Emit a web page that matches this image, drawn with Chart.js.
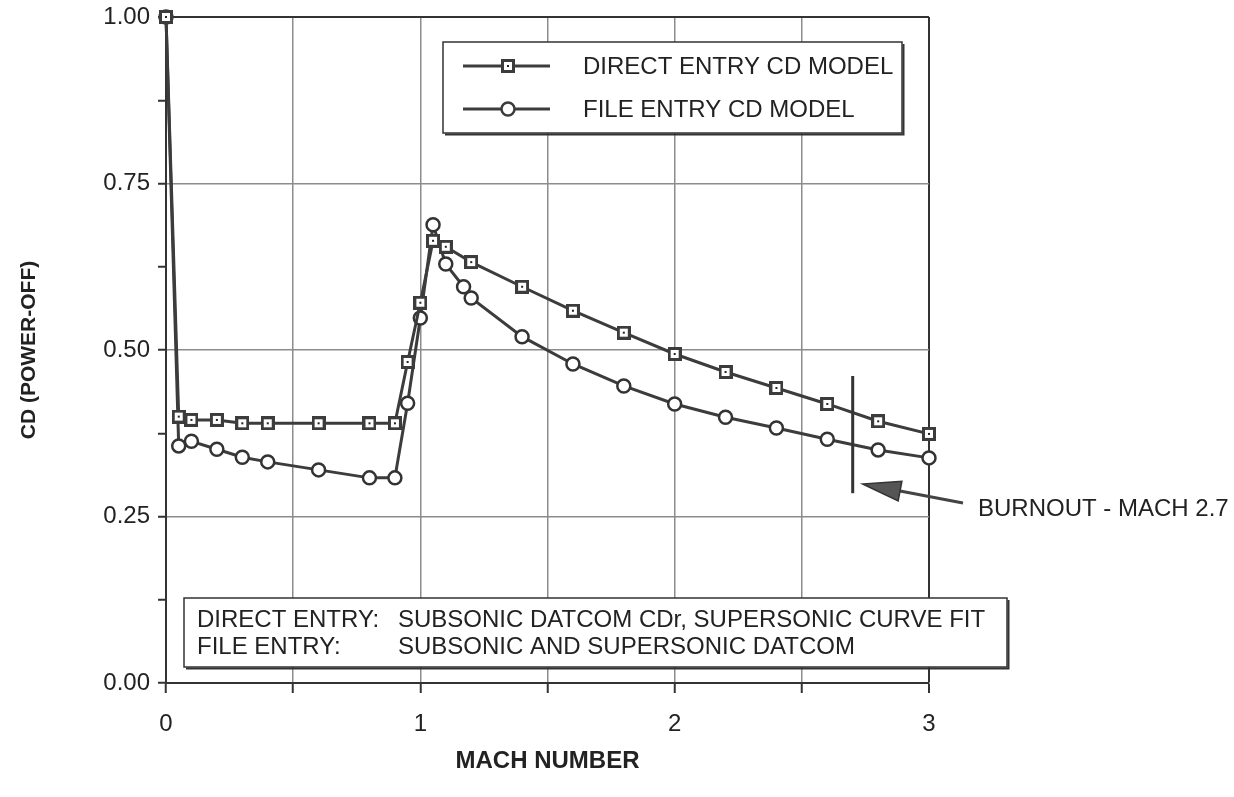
<!DOCTYPE html>
<html>
<head>
<meta charset="utf-8">
<script src="https://cdn.jsdelivr.net/npm/chart.js@4.4.1/dist/chart.umd.min.js"></script>
<style>
  html, body { margin: 0; padding: 0; background: #fff; }
  #cdChart { display: block; }
</style>
</head>
<body>
<canvas id="cdChart" width="1234" height="797"></canvas>
<script>
// Mach number / CD values
const machDirect = [0, 0.05, 0.1, 0.2, 0.3, 0.4, 0.6, 0.8, 0.9, 0.95, 1.0, 1.05, 1.1, 1.2, 1.4, 1.6, 1.8, 2.0, 2.2, 2.4, 2.6, 2.8, 3.0];
const cdDirect = [1.0, 0.40, 0.395, 0.395, 0.39, 0.39, 0.39, 0.39, 0.39, 0.482, 0.571, 0.664, 0.655, 0.632, 0.595, 0.559, 0.526, 0.494, 0.467, 0.443, 0.419, 0.393, 0.374];

const machFile = [0, 0.05, 0.1, 0.2, 0.3, 0.4, 0.6, 0.8, 0.9, 0.95, 1.0, 1.05, 1.1, 1.17, 1.2, 1.4, 1.6, 1.8, 2.0, 2.2, 2.4, 2.6, 2.8, 3.0];
const cdFile = [1.0, 0.356, 0.363, 0.351, 0.339, 0.332, 0.320, 0.308, 0.308, 0.42, 0.548, 0.688, 0.629, 0.595, 0.578, 0.52, 0.479, 0.446, 0.419, 0.399, 0.383, 0.366, 0.350, 0.338];

const seriesLabels = ['DIRECT ENTRY CD MODEL', 'FILE ENTRY CD MODEL'];
const noteLines = [
    ['DIRECT ENTRY:', 'SUBSONIC DATCOM CDr, SUPERSONIC CURVE FIT'],
    ['FILE ENTRY:', 'SUBSONIC AND SUPERSONIC DATCOM']
];
const burnoutMach = 2.7;
const burnoutRange = [0.285, 0.461];
const burnoutText = 'BURNOUT - MACH 2.7';

const INK = '#333';
const LINE = '#3c3c3c';
const GRID = '#8c8c8c';
const FONT = "'Liberation Sans', Arial, sans-serif";

Chart.defaults.font.family = FONT;
Chart.defaults.color = '#222';

function squareMarker() {
    const c = document.createElement('canvas');
    c.width = 14; c.height = 14;
    const g = c.getContext('2d');
    g.fillStyle = LINE; g.fillRect(0, 0, 14, 14);
    g.fillStyle = '#fff'; g.fillRect(3, 3, 8, 8);
    g.fillStyle = '#222'; g.fillRect(6, 6, 2, 2);
    return c;
}
const sq = squareMarker();

function onStep(v, step) {
    return Math.abs(v / step - Math.round(v / step)) < 1e-6;
}

function box(ctx, x, y, w, h) {
    ctx.fillStyle = '#fff';
    ctx.fillRect(x, y, w, h);
    ctx.strokeStyle = INK;
    ctx.lineWidth = 1.5;
    ctx.strokeRect(x, y, w, h);
    // little shadow on bottom/right edge
    ctx.lineWidth = 2;
    ctx.beginPath();
    ctx.moveTo(x + 2, y + h + 1.5);
    ctx.lineTo(x + w + 1.5, y + h + 1.5);
    ctx.lineTo(x + w + 1.5, y + 2);
    ctx.stroke();
}

const extras = {
    id: 'extras',
    afterDraw(chart) {
        const ctx = chart.ctx;
        const xs = chart.scales.x, ys = chart.scales.y;
        ctx.save();

        // legend
        box(ctx, 443, 42, 459, 91);
        ctx.font = '24px ' + FONT;
        ctx.textBaseline = 'middle';
        ctx.textAlign = 'left';
        seriesLabels.forEach((lab, i) => {
            const ly = 66 + i * 43;
            ctx.strokeStyle = LINE;
            ctx.lineWidth = 3;
            ctx.beginPath();
            ctx.moveTo(463, ly);
            ctx.lineTo(550, ly);
            ctx.stroke();
            if (i === 0) {
                ctx.drawImage(sq, 508 - 7, ly - 7);
            } else {
                ctx.beginPath();
                ctx.arc(508, ly, 6.5, 0, Math.PI * 2);
                ctx.fillStyle = '#fff';
                ctx.fill();
                ctx.lineWidth = 2.5;
                ctx.stroke();
            }
            ctx.fillStyle = '#222';
            ctx.fillText(lab, 583, ly + 1);
        });

        // note box
        box(ctx, 184, 598, 823, 69);
        ctx.fillStyle = '#222';
        noteLines.forEach((row, i) => {
            const ty = 620 + i * 27;
            ctx.fillText(row[0], 197, ty);
            ctx.fillText(row[1], 398, ty);
        });

        // burnout marker
        const bx = xs.getPixelForValue(burnoutMach);
        ctx.strokeStyle = INK;
        ctx.lineWidth = 3;
        ctx.beginPath();
        ctx.moveTo(bx, ys.getPixelForValue(burnoutRange[1]));
        ctx.lineTo(bx, ys.getPixelForValue(burnoutRange[0]));
        ctx.stroke();

        // arrow pointing at it
        const tipX = bx + 10, tipY = 484;
        const tailX = 963, tailY = 503;
        const ang = Math.atan2(tailY - tipY, tailX - tipX);
        const hl = 38, hw = 10;
        const baseX = tipX + Math.cos(ang) * hl, baseY = tipY + Math.sin(ang) * hl;
        ctx.strokeStyle = '#444';
        ctx.lineWidth = 3;
        ctx.beginPath();
        ctx.moveTo(baseX, baseY);
        ctx.lineTo(tailX, tailY);
        ctx.stroke();
        ctx.fillStyle = '#555';
        ctx.strokeStyle = '#333';
        ctx.lineWidth = 1.5;
        ctx.beginPath();
        ctx.moveTo(tipX, tipY);
        ctx.lineTo(baseX - Math.sin(ang) * hw, baseY + Math.cos(ang) * hw);
        ctx.lineTo(baseX + Math.sin(ang) * hw, baseY - Math.cos(ang) * hw);
        ctx.closePath();
        ctx.fill();
        ctx.stroke();

        ctx.fillStyle = '#222';
        ctx.font = '24px ' + FONT;
        ctx.fillText(burnoutText, 978, 509);
        ctx.restore();
    }
};

function initializeChart() {
    const ctx = document.getElementById('cdChart').getContext('2d');
    new Chart(ctx, {
        type: 'scatter',
        data: {
            datasets: [
                {
                    label: seriesLabels[0],
                    data: machDirect.map((m, i) => ({x: m, y: cdDirect[i]})),
                    showLine: true,
                    borderColor: LINE,
                    borderWidth: 3,
                    pointStyle: sq,
                    pointRadius: 7,
                    clip: false,
                },
                {
                    label: seriesLabels[1],
                    data: machFile.map((m, i) => ({x: m, y: cdFile[i]})),
                    showLine: true,
                    borderColor: LINE,
                    borderWidth: 3,
                    pointStyle: 'circle',
                    pointRadius: 6.5,
                    pointBorderWidth: 2.5,
                    pointBackgroundColor: '#fff',
                    pointBorderColor: INK,
                    clip: false,
                },
            ]
        },
        options: {
            responsive: false,
            animation: false,
            layout: {padding: {left: 0, right: 305, top: 17, bottom: 0}},
            plugins: {legend: {display: false}, tooltip: {enabled: false}},
            scales: {
                x: {
                    type: 'linear',
                    min: 0,
                    max: 3,
                    afterFit: (s) => { s.height = 114; s.paddingLeft = 0; s.paddingRight = 0; },
                    border: {color: INK, width: 2},
                    grid: {
                        color: (c) => Math.abs(c.tick.value - 3) < 1e-6 ? INK : GRID,
                        lineWidth: (c) => Math.abs(c.tick.value - 3) < 1e-6 ? 2 : 1.5,
                        tickColor: INK,
                        tickLength: 10,
                        tickWidth: 2,
                    },
                    ticks: {
                        stepSize: 0.5,
                        autoSkip: false,
                        maxRotation: 0,
                        padding: 17,
                        font: {size: 24},
                        callback: (v) => Number.isInteger(v) ? String(v) : '',
                    },
                    title: {
                        display: true,
                        text: 'MACH NUMBER',
                        font: {size: 24, weight: 'bold'},
                        padding: {top: 0, bottom: 21},
                    }
                },
                y: {
                    min: 0,
                    max: 1,
                    afterFit: (s) => { s.width = 166; s.paddingTop = 0; s.paddingBottom = 0; },
                    border: {color: INK, width: 2},
                    grid: {
                        color: (c) => {
                            const v = c.tick.value;
                            if (Math.abs(v - 1) < 1e-6) return INK;
                            return onStep(v, 0.25) ? GRID : 'rgba(0,0,0,0)';
                        },
                        lineWidth: (c) => Math.abs(c.tick.value - 1) < 1e-6 ? 2 : 1.5,
                        tickColor: INK,
                        tickLength: 8,
                        tickWidth: 2,
                    },
                    ticks: {
                        stepSize: 0.125,
                        autoSkip: false,
                        padding: 8,
                        font: {size: 24},
                        callback: (v) => onStep(v, 0.25) ? v.toFixed(2) : '',
                    },
                    title: {
                        display: true,
                        text: 'CD (POWER-OFF)',
                        font: {size: 21, weight: 'bold'},
                        padding: {top: 17, bottom: 0},
                    }
                }
            }
        },
        plugins: [extras]
    });
}

window.onload = initializeChart;
</script>
</body>
</html>
